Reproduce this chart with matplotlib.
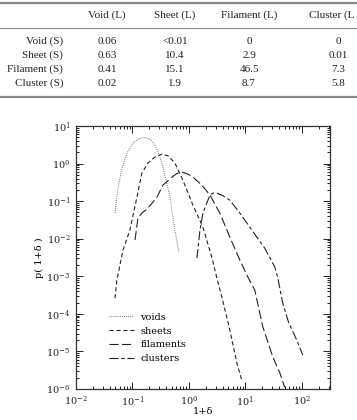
import matplotlib
matplotlib.use('Agg')
import matplotlib.pyplot as plt
from matplotlib.lines import Line2D
from matplotlib.ticker import LogLocator, NullFormatter
import numpy as np

plt.rcParams['lines.scale_dashes'] = False
plt.rcParams['font.family'] = ['DejaVu Serif']
plt.rcParams['mathtext.fontset'] = 'dejavuserif'

# Table data
col_labels = ['Void (L)', 'Sheet (L)', 'Filament (L)', 'Cluster (L']
row_labels = ['Void (S)', 'Sheet (S)', 'Filament (S)', 'Cluster (S)']
cells = [
    ['0.06', '<0.01', '0', '0'],
    ['0.63', '10.4', '2.9', '0.01'],
    ['0.41', '15.1', '46.5', '7.3'],
    ['0.02', '1.9', '8.7', '5.8'],
]

# Curves
voids_x = [0.049, 0.052, 0.058, 0.066, 0.080, 0.102, 0.130, 0.166, 0.21, 0.25,
           0.30, 0.347, 0.40, 0.461, 0.565, 0.665]
voids_y = [0.048, 0.11, 0.32, 0.80, 1.9, 3.5, 4.6, 5.0, 4.3, 3.1,
           1.7, 0.80, 0.33, 0.128, 0.0169, 0.0044]

sheets_x = [0.049, 0.053, 0.068, 0.090, 0.120, 0.147, 0.188, 0.25, 0.333, 0.43,
            0.565, 0.783, 1.18, 1.77, 2.55, 3.13, 3.84, 5.32, 7.08, 8.67]
sheets_y = [2.6e-4, 7.9e-4, 5.0e-3, 0.0169, 0.128, 0.556, 1.03, 1.5, 1.78, 1.6,
            1.03, 0.362, 0.078, 0.0204, 3.2e-3, 9.0e-4, 2.8e-4, 3.7e-5, 4.9e-6, 1.7e-6]

fil_x = [0.111, 0.125, 0.147, 0.188, 0.272, 0.347, 0.500, 0.62, 0.752, 0.95, 1.18,
         1.70, 2.36, 3.54, 5.32, 8.0, 11.1, 14.7, 20.4, 30.7, 40.8, 50.0]
fil_y = [9.2e-3, 0.0353, 0.048, 0.065, 0.128, 0.267, 0.435, 0.55, 0.590, 0.53, 0.435,
         0.267, 0.145, 0.048, 0.011, 2.7e-3, 9.5e-4, 4.3e-4, 4.5e-5, 7.1e-6, 2.7e-6, 1.1e-6]

clus_x = [1.39, 1.57, 1.77, 2.36, 2.7, 3.13, 4.0, 5.32, 8.0, 12.0, 16.0, 22.1,
          33.3, 37.6, 46.1, 58.9, 81.6, 104.0]
clus_y = [3.05e-3, 0.0169, 0.048, 0.145, 0.165, 0.163, 0.14, 0.106, 0.048, 0.0204,
          0.011, 5.6e-3, 1.76e-3, 9.0e-4, 1.9e-4, 5.7e-5, 2.0e-5, 8.0e-6]

W, H = 357, 420
fig = plt.figure(figsize=(W / 100, H / 100), dpi=100, facecolor='white')

def fx(px):
    return px / W

def fy(py):
    return 1 - py / H

# --- table ---
tfont = dict(family='Liberation Serif', fontsize=8, color='#222')
for y, lw in [(3, 1.6), (28, 0.8), (97, 1.6)]:
    fig.add_artist(Line2D([0, 1], [fy(y), fy(y)], color='#888', lw=lw))
col_x = [107, 175, 249, 338]
for i, (cx, lab) in enumerate(zip(col_x, col_labels)):
    if i == 3:
        # last header runs into the page edge in the original
        fig.text(fx(309), fy(15), lab, ha='left', va='center', **tfont)
    else:
        fig.text(fx(cx), fy(15), lab, ha='center', va='center', **tfont)
row_y = [41, 55, 69, 83]
for ry, lab, row in zip(row_y, row_labels, cells):
    fig.text(fx(63), fy(ry), lab, ha='right', va='center', **tfont)
    for cx, v in zip(col_x, row):
        fig.text(fx(cx), fy(ry), v, ha='center', va='center', **tfont)

# --- plot ---
ax = fig.add_axes([fx(76), fy(389), fx(330) - fx(76), fy(126) - fy(389)])
c = '#222'
ax.plot(voids_x, voids_y, color='#555', lw=0.8, dashes=(0.5, 1.0), label='voids')
ax.plot(sheets_x, sheets_y, color=c, lw=0.8, dashes=(3, 2), label='sheets')
ax.plot(fil_x, fil_y, color=c, lw=0.8, dashes=(6.5, 2.5), label='filaments')
ax.plot(clus_x, clus_y, color=c, lw=0.8, dashes=(6.5, 2, 2.5, 2), label='clusters')

ax.set_xscale('log')
ax.set_yscale('log')
ax.set_xlim(1e-2, 10 ** 2.5)
ax.set_ylim(1e-6, 1e1)
ax.xaxis.set_major_locator(LogLocator(base=10, numticks=10))
ax.yaxis.set_major_locator(LogLocator(base=10, numticks=10))
ax.xaxis.set_minor_locator(LogLocator(base=10, subs=np.arange(2, 10), numticks=20))
ax.yaxis.set_minor_locator(LogLocator(base=10, subs=np.arange(2, 10), numticks=20))
ax.xaxis.set_minor_formatter(NullFormatter())
ax.yaxis.set_minor_formatter(NullFormatter())
ax.tick_params(which='both', direction='in', top=True, right=True, labelsize=7,
               colors='#222', width=0.7)
ax.tick_params(which='major', length=5, pad=4)
ax.tick_params(which='minor', length=2.5)
for s in ax.spines.values():
    s.set_linewidth(0.9)
    s.set_color('#333')

ax.set_xlabel('1+δ', fontsize=7)
ax.xaxis.set_label_coords(0.5, -0.07)
ax.set_ylabel('p( 1+δ )', fontsize=7)
ax.yaxis.set_label_coords(-0.125, 0.5)

ax.legend(loc='upper left', bbox_to_anchor=(0.13, 0.29), frameon=False,
          fontsize=7, handlelength=2.6, handletextpad=0.6, labelspacing=0.5,
          borderpad=0, borderaxespad=0)

plt.savefig('out.png', dpi=100, facecolor='white')
plt.close()
